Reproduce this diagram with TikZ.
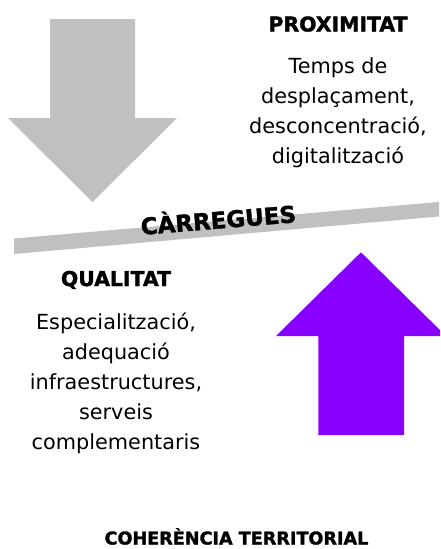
\documentclass[tikz,border=0pt]{standalone}
\usepackage{fontspec}
\setmainfont{DejaVu Sans}
\newfontfamily\heavyfont[FakeBold=1.6]{DejaVu Sans Bold}
\definecolor{arrowgray}{RGB}{192,192,192}
\definecolor{violet}{RGB}{136,0,255}
\tikzset{
  body/.style={anchor=base, inner sep=0pt, font=\fontsize{20.8}{30}\selectfont},
  head/.style={anchor=base, inner sep=0pt, font=\fontsize{20.4}{30}\selectfont\heavyfont},
}
\begin{document}
\begin{tikzpicture}[x=1pt,y=-1pt]
\useasboundingbox (0,0) rectangle (440,549);
\clip (0,0) rectangle (440,549);
% gray down arrow
\fill[arrowgray] (50,19) -- (135,19) -- (135,118) -- (177,118) -- (92.5,202) -- (8,118) -- (50,118) -- cycle;
% violet up arrow
\fill[violet] (318.3,435) -- (404,435) -- (404,336) -- (446,336) -- (361,252.3) -- (276,336) -- (318.3,336) -- cycle;
% tilted bar
\fill[arrowgray] (14,238.5) -- (439,202) -- (439,216.5) -- (14,254) -- cycle;
% labels
\node[anchor=base, inner sep=0pt, rotate=4.7, font=\fontsize{23}{28}\selectfont\heavyfont] (carr) at (219,228.5) {CÀRREGUES};
\node[head] (prox) at (338,31.5) {PROXIMITAT};
\node[body] (p1) at (338,73.3) {Temps de};
\node[body] (p2) at (338,103.3) {desplaçament,};
\node[body] (p3) at (338,133.3) {desconcentració,};
\node[body] (p4) at (338,163.3) {digitalització};
\node[head] (qual) at (116,286) {QUALITAT};
\node[body] (q1) at (116,329.3) {Especialització,};
\node[body] (q2) at (116,359.3) {adequació};
\node[body] (q3) at (116,389.3) {infraestructures,};
\node[body] (q4) at (116,419.3) {serveis};
\node[body] (q5) at (116,449.3) {complementaris};
\node[anchor=base, inner sep=0pt, font=\fontsize{17.6}{22}\selectfont\heavyfont] (coh) at (236.5,544.5) {COHERÈNCIA TERRITORIAL};
\end{tikzpicture}
\end{document}
